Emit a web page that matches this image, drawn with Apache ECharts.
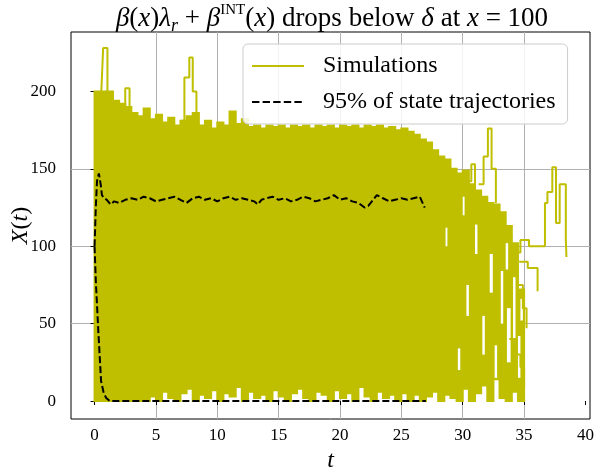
<!DOCTYPE html>
<html><head><meta charset="utf-8">
<script src="https://cdn.jsdelivr.net/npm/echarts@6/dist/echarts.min.js"></script>
<style>html,body{margin:0;padding:0;background:#fff}#c{width:595px;height:469px}</style>
</head><body><div id="c"></div>
<script>
const xTicks = [0, 5, 10, 15, 20, 25, 30, 35, 40];
const yTicks = [0, 50, 100, 150, 200];

// dense cloud of simulated trajectories: column edges, lower and upper envelope
const bandTimes = [0,0.5,1,1.5,2,2.5,3,3.5,4,4.5,5,5.5,6,6.5,7,7.5,8,8.5,9,9.5,10,10.5,11,11.5,12,12.5,13,13.5,14,14.5,15,15.5,16,16.5,17,17.5,18,18.5,19,19.5,20,20.5,21,21.5,22,22.5,23,23.5,24,24.5,25,25.5,26,26.5,27,27.5,28,28.5,29,29.5,30,30.5,31,31.5,32,32.5,33,33.5,34,34.5,35];
const bandHigh = [200,200,200,194,192,190,186,184,189,182,185,180,183,178,181,184,186,178,181,176,180,178,187,179,182,177,178,176,178,177,178,176,178,177,178,176,178,177,178,176,178,177,178,176,178,177,178,176,177,175,176,174,172,169,167,162,158,156,150,147,149,140,136,132,128,127,122,113,102,72];
const bandLow = [0,0,0,0,0,0,0,0,0,3,0,6,2,0,5,8,0,4,2,7,0,5,3,9,0,6,2,4,0,7,3,0,5,8,2,0,6,4,0,7,2,5,0,9,3,0,6,2,4,0,5,0,4,0,3,6,0,4,2,0,8,0,5,10,0,14,2,0,6,0];

// gaps in the thinning cloud: start, end, low, high
const holeStart = [28.6,29.6,30.0,30.3,31.0,31.6,32.2,32.6,33.1,33.5,33.6,34.1,34.5,34.7];
const holeEnd   = [28.75,29.8,30.15,30.5,31.2,31.8,32.45,32.8,33.3,33.7,33.9,34.3,34.7,34.9];
const holeLow   = [100,20,120,55,95,30,70,15,50,85,25,40,15,52];
const holeHigh  = [112,34,132,75,114,55,95,36,84,102,60,80,42,66];

// individual trajectories standing out of the cloud: [t, X(t)]
const trajA = [[0.55,200],[0.7,228],[1.05,200],[1.2,195]];
const trajB = [[2.3,188],[2.5,202],[2.85,190],[3.0,185]];
const trajC = [[7.05,181],[7.32,209],[7.72,222],[8.0,200],[8.3,186]];
const trajD = [[30.5,142],[30.7,153],[31.0,138]];
const trajE = [[31.3,140],[31.7,158],[32.05,176],[32.35,150],[32.7,128]];
const trajF = [[34.2,96],[34.7,104],[35.4,100],[36.7,128],[36.9,135],[37.3,151],[37.6,115],[37.9,140],[38.4,105],[38.45,93]];
const trajG = [[34.6,90],[35.3,86],[36.1,71]];
const trajH = [[34.4,75],[34.9,60],[35.2,47]];
const trajI = [[33.8,40],[34.3,30],[34.7,22],[35.0,8]];
const trajJ = [[34.5,12],[34.9,4],[35.0,1]];

// 95% band of state trajectories
const qUpperT = [0,0.1,0.2,0.35,0.5,0.6,0.8,1.0,1.3,1.6,2,2.5,3,3.5,4,4.5,5,5.5,6,6.5,7,7.5,8,8.5,9,9.5,10,10.5,11,11.5,12,12.5,13,13.3,13.6,14,14.5,15,15.5,16,16.5,17,17.5,18,18.5,19,19.5,20,20.5,21,21.5,22,22.3,22.6,23,23.5,24,24.5,25,25.5,26,26.5,26.9];
const qUpperV = [100,125,142,147,140,133,131,130,127,129,128,130,131,130,132,131,129,130,131,132,130,128,131,132,130,131,129,131,132,130,131,130,129,127,130,131,132,130,131,129,130,132,131,129,130,131,133,130,131,129,128,125,126,129,133,131,129,130,131,130,131,132,125];
const qLowerT = [0,0.1,0.3,0.53,0.75,0.95,1.25,27];
const qLowerV = [100,78,46,13,5,2,0,0];

const FONT = 'Liberation Serif';
const OLIVE = '#bfbf00';

const bandRows = [];
for (let i = 0; i < bandHigh.length; i++) bandRows.push([bandTimes[i], bandTimes[i+1], bandLow[i], bandHigh[i]]);
const holeRows = holeStart.map((s, i) => [s, holeEnd[i], holeLow[i], holeHigh[i]]);

function rectRender(fill, stroke) {
  return function (params, api) {
    const a = api.coord([api.value(0), api.value(3)]);
    const b = api.coord([api.value(1), api.value(2)]);
    return {
      type: 'rect',
      shape: { x: a[0], y: a[1], width: b[0] - a[0], height: b[1] - a[1] },
      style: stroke ? { fill: fill, stroke: stroke, lineWidth: 2 } : { fill: fill }
    };
  };
}

function traj(data) {
  return {
    name: 'Simulations', type: 'line', step: 'end', data: data, symbol: 'none', z: 3,
    lineStyle: { color: OLIVE, width: 2 }, itemStyle: { color: OLIVE }, silent: true
  };
}

const solidIcon = 'path://M0,0H52V2.2H0Z';
const dashIcon = 'path://M0,0H7.4V2.2H0Z M10.6,0H18V2.2H10.6Z M21.2,0H28.6V2.2H21.2Z M31.8,0H39.2V2.2H31.8Z M42.4,0H49.8V2.2H42.4Z M52,0H52.01V2.2H52Z';

const chart = echarts.init(document.getElementById('c'));
chart.setOption({
  animation: false,
  backgroundColor: '#fff',
  title: {
    text: '{i|β}({i|x}){i|λ}{sub|r} + {i|β}{sup|INT}({i|x}) drops below {i|δ} at {i|x} = 100',
    left: 332, top: 3, padding: 0, textAlign: 'center',
    textStyle: {
      fontFamily: FONT, fontSize: 27, fontWeight: 'normal', color: '#000', lineHeight: 32,
      rich: {
        i: { fontFamily: FONT, fontSize: 27, fontStyle: 'italic', color: '#000', lineHeight: 32 },
        sub: { fontFamily: FONT, fontSize: 18, fontStyle: 'italic', color: '#000', lineHeight: 18, verticalAlign: 'bottom' },
        sup: { fontFamily: FONT, fontSize: 15, color: '#000', lineHeight: 20, verticalAlign: 'top' }
      }
    }
  },
  legend: {
    data: [
      { name: 'Simulations', icon: solidIcon },
      { name: '95% of state trajectories', icon: dashIcon }
    ],
    orient: 'vertical', left: 243, top: 44,
    padding: [10, 12, 10, 9], itemGap: 12, itemWidth: 52, itemHeight: 2.2,
    backgroundColor: 'rgba(255,255,255,0.85)', borderColor: '#cccccc', borderWidth: 1, borderRadius: 5,
    textStyle: { fontFamily: FONT, fontSize: 24, color: '#000', padding: [0, 10, 0, 14] }
  },
  grid: { left: 71, right: 5, top: 32, bottom: 50, outerBoundsMode: 'none', containLabel: false,
          show: true, borderColor: '#000', borderWidth: 1, backgroundColor: 'transparent' },
  xAxis: {
    type: 'value', min: -1.92, max: 40.37, splitNumber: 8,
    axisLine: { show: false },
    axisTick: { show: true, inside: false, length: 4, lineStyle: { color: '#000' }, customValues: xTicks },
    axisLabel: { customValues: xTicks, fontFamily: FONT, fontSize: 17, color: '#000', margin: 8 },
    splitLine: { show: true, showMinLine: false, showMaxLine: false, lineStyle: { color: '#b0b0b0', width: 1 } },
    name: '{i|t}', nameLocation: 'middle', nameGap: 30, nameMoveOverlap: false,
    nameTextStyle: { fontFamily: FONT, fontSize: 24, color: '#000', rich: { i: { fontFamily: FONT, fontSize: 24, fontStyle: 'italic', color: '#000' } } }
  },
  yAxis: {
    type: 'value', min: -11.6, max: 238.4, splitNumber: 5,
    axisLine: { show: false },
    axisTick: { show: true, inside: false, length: 4, lineStyle: { color: '#000' }, customValues: yTicks },
    axisLabel: { customValues: yTicks, fontFamily: FONT, fontSize: 17, color: '#000', margin: 15 },
    splitLine: { show: true, showMinLine: false, showMaxLine: false, lineStyle: { color: '#b0b0b0', width: 1 } },
    name: '{i|X}({i|t})', nameLocation: 'middle', nameGap: 38, nameRotate: 90, nameMoveOverlap: false,
    nameTextStyle: { fontFamily: FONT, fontSize: 24, color: '#000', rich: { i: { fontFamily: FONT, fontSize: 24, fontStyle: 'italic', color: '#000' } } }
  },
  series: [
    traj(trajA),
    {
      name: 'cloud', type: 'custom', data: bandRows, encode: { x: [0, 1], y: [2, 3] },
      renderItem: rectRender(OLIVE, OLIVE), clip: true, z: 2, silent: true
    },
    {
      name: 'gaps', type: 'custom', data: holeRows, encode: { x: [0, 1], y: [2, 3] },
      renderItem: rectRender('#ffffff', null), clip: true, z: 2, silent: true
    },
    traj(trajB), traj(trajC), traj(trajD), traj(trajE), traj(trajF),
    traj(trajG), traj(trajH), traj(trajI), traj(trajJ),
    {
      name: '95% of state trajectories', type: 'line', data: qUpperT.map((t, i) => [t, qUpperV[i]]),
      symbol: 'none', z: 5, silent: true, lineStyle: { color: '#000', width: 2, type: [7, 3] }, itemStyle: { color: '#000' }
    },
    {
      name: '95% of state trajectories', type: 'line', data: qLowerT.map((t, i) => [t, qLowerV[i]]),
      symbol: 'none', z: 5, silent: true, lineStyle: { color: '#000', width: 2, type: [7, 3] }, itemStyle: { color: '#000' }
    }
  ]
});
</script></body></html>
